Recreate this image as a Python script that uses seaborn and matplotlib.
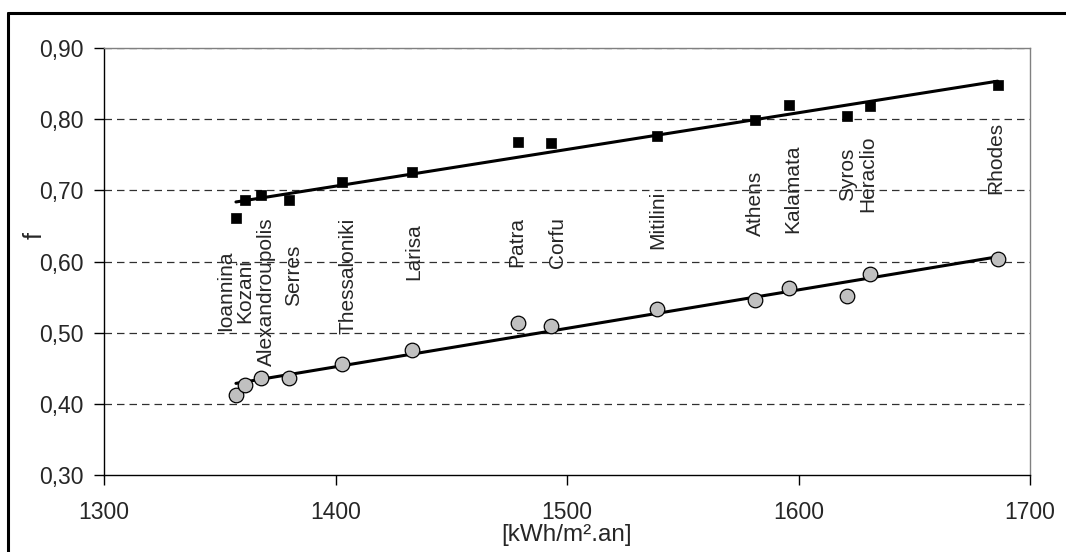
import numpy as np
import pandas as pd
import matplotlib
matplotlib.use("Agg")
import matplotlib.pyplot as plt
import seaborn as sns
from matplotlib.lines import Line2D

# ---- data ----
cities = ["Ioannina", "Kozani", "Alexandroupolis", "Serres", "Thessaloniki", "Larisa",
          "Patra", "Corfu", "Mitilini", "Athens", "Kalamata", "Syros", "Heraclio", "Rhodes"]
radiation = [1357, 1361, 1368, 1380, 1403, 1433, 1479, 1493, 1539, 1581, 1596, 1621, 1631, 1686]
f_upper = [0.661, 0.686, 0.694, 0.687, 0.712, 0.726, 0.768, 0.766, 0.776, 0.799, 0.820, 0.805, 0.819, 0.848]
f_lower = [0.413, 0.427, 0.437, 0.437, 0.456, 0.475, 0.513, 0.509, 0.533, 0.546, 0.563, 0.552, 0.582, 0.603]
label_x = [1352.5, 1361, 1370.3, 1382, 1405.4, 1434, 1478.3, 1495.7, 1539, 1581.2, 1597.6, 1621, 1630, 1685]
label_y = [0.559, 0.559, 0.557, 0.580, 0.580, 0.614, 0.628, 0.627, 0.659, 0.681, 0.702, 0.722, 0.723, 0.746]
x_ticks = [1300, 1400, 1500, 1600, 1700]
y_ticks = [0.30, 0.40, 0.50, 0.60, 0.70, 0.80, 0.90]
y_tick_labels = ["0,30", "0,40", "0,50", "0,60", "0,70", "0,80", "0,90"]
x_label = "[kWh/m².an]"
y_label = "f"

df = pd.DataFrame({"city": cities, "x": radiation, "upper": f_upper, "lower": f_lower})

sns.set_style("white")
plt.rcParams["font.family"] = ["Liberation Sans", "DejaVu Sans"]

fig = plt.figure(figsize=(10.66, 5.52), dpi=100)
ax = fig.add_axes([104 / 1066, 1 - 475 / 552, (1030 - 104) / 1066, (475 - 48) / 552])

# grid lines
for yv in y_ticks[1:]:
    ax.axhline(yv, color="#303030", lw=0.9, ls=(0, (6, 4)), zorder=0)

# trend lines
sns.regplot(data=df, x="x", y="upper", ax=ax, scatter=False, ci=None, truncate=True,
            line_kws=dict(color="black", lw=2.2, zorder=2))
sns.regplot(data=df, x="x", y="lower", ax=ax, scatter=False, ci=None, truncate=True,
            line_kws=dict(color="black", lw=2.2, zorder=2))

# markers
sns.scatterplot(data=df, x="x", y="upper", ax=ax, marker="s", s=55, color="black",
                edgecolor="black", linewidth=0.5, zorder=3, legend=False)
sns.scatterplot(data=df, x="x", y="lower", ax=ax, marker="o", s=110, color="#c0c0c0",
                edgecolor="black", linewidth=0.9, zorder=3, legend=False)

# city labels
for name, lx, ly in zip(cities, label_x, label_y):
    ax.text(lx, ly, name, rotation=90, ha="center", va="center", fontsize=15, zorder=4)

ax.set_xlim(1300, 1700)
ax.set_ylim(0.30, 0.90)
ax.set_xticks(x_ticks)
ax.set_xticklabels([str(v) for v in x_ticks])
ax.set_yticks(y_ticks)
ax.set_yticklabels(y_tick_labels)
ax.tick_params(axis="both", which="major", direction="out", length=7, width=1,
               color="black", labelsize=16.5, bottom=True, left=True)
ax.tick_params(axis="x", pad=11.5)
ax.tick_params(axis="y", pad=8)

ax.set_xlabel(x_label, fontsize=17.5, labelpad=0.5)
ax.set_ylabel(y_label, fontsize=18, labelpad=0)
ax.yaxis.set_label_coords(-0.062, 0.56)

for side in ["left", "bottom"]:
    ax.spines[side].set_color("black")
    ax.spines[side].set_linewidth(1.0)
for side in ["top", "right"]:
    ax.spines[side].set_color("#808080")
    ax.spines[side].set_linewidth(1.0)

# outer chart frame (only left and top edges are visible in the reference)
fx = 7.5 / 1066
fy = 1 - 13 / 552
fig.add_artist(Line2D([fx, fx], [0, fy], transform=fig.transFigure, color="black", lw=2.2))
fig.add_artist(Line2D([fx, 1], [fy, fy], transform=fig.transFigure, color="black", lw=2.2))

fig.savefig("out.png", dpi=100)
